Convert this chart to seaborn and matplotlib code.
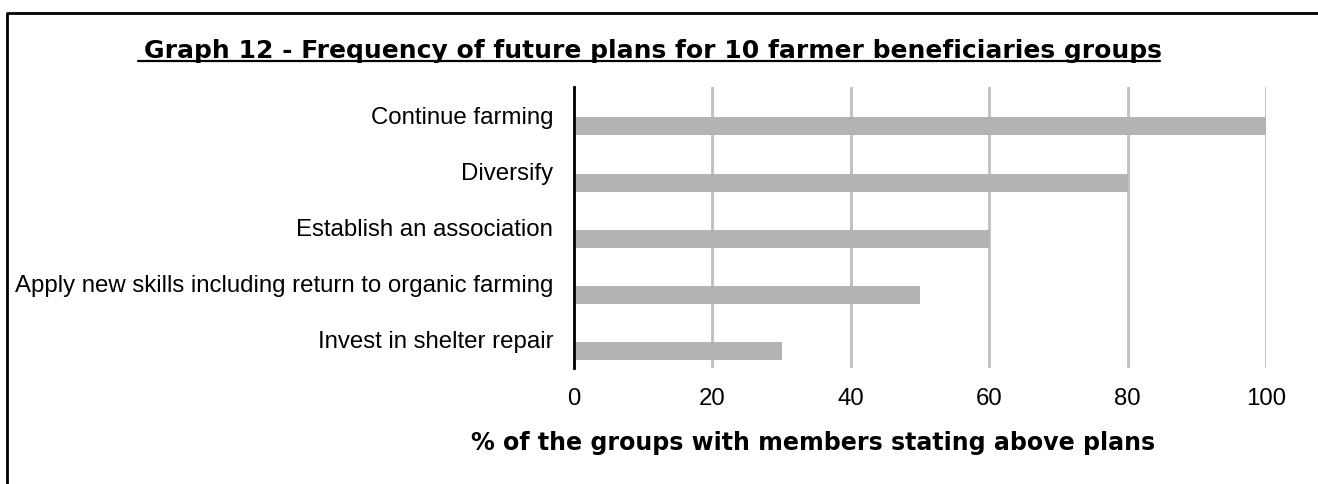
import matplotlib
matplotlib.use("Agg")
import matplotlib.pyplot as plt
from matplotlib.lines import Line2D
import seaborn as sns
import pandas as pd

plans = [
    "Continue farming",
    "Diversify",
    "Establish an association",
    "Apply new skills including return to organic farming",
    "Invest in shelter repair",
]
share = [100, 80, 60, 50, 30]
xticks = [0, 20, 40, 60, 80, 100]

sns.set_theme(style="white")
plt.rcParams["font.family"] = ["Liberation Sans", "DejaVu Sans"]
plt.rcParams["text.color"] = "black"
plt.rcParams["axes.labelcolor"] = "black"

df = pd.DataFrame({"plan": plans, "share": share})

fig = plt.figure(figsize=(13.18, 4.84), dpi=100)
ax = fig.add_axes([574 / 1318, 1 - 368 / 484, 692 / 1318, 281 / 484])

sns.barplot(data=df, x="share", y="plan", orient="h", color="#b3b3b3",
            width=0.32, saturation=1, ax=ax, zorder=3)

# bars sit in the lower part of each category band
for p in ax.patches:
    p.set_y(p.get_y() + 0.2)
    p.set_edgecolor("none")

ax.set_xlim(0, 100)
ax.set_ylim(4.5, -0.5)
ax.set_xticks(xticks)
ax.set_xticklabels([str(t) for t in xticks])
ax.grid(axis="x", color="#bfbfbf", linewidth=2, zorder=0)
ax.grid(axis="y", visible=False)
ax.tick_params(axis="both", length=0, labelsize=17.3, colors="black")
ax.tick_params(axis="x", pad=14.5)
ax.tick_params(axis="y", pad=15)

for side in ["top", "right", "bottom"]:
    ax.spines[side].set_visible(False)
ax.spines["left"].set_color("black")
ax.spines["left"].set_linewidth(2)
ax.spines["left"].set_zorder(5)

ax.set_ylabel("")
ax.set_xlabel("% of the groups with members stating above plans",
              fontsize=17.1, fontweight="bold", color="black",
              family=["DejaVu Sans"])
ax.xaxis.set_label_coords((813 - 574) / 692, (368 - 443) / 281)
ax.xaxis.label.set_va("center")

fig.text(653 / 1318, 1 - 51 / 484,
         "Graph 12 - Frequency of future plans for 10 farmer beneficiaries groups",
         ha="center", va="center", fontsize=18.0, fontweight="bold",
         family=["DejaVu Sans"], color="black")
# underline under the title
fig.add_artist(Line2D([138 / 1318, 1160 / 1318], [1 - 61 / 484, 1 - 61 / 484],
                      transform=fig.transFigure, color="black", linewidth=1.6))

# outer frame
fig.add_artist(Line2D([7 / 1318, 7 / 1318, 1.0], [0.0, 1 - 12.5 / 484, 1 - 12.5 / 484],
                      transform=fig.transFigure, color="black", linewidth=2))

fig.savefig("out.png", dpi=100)
